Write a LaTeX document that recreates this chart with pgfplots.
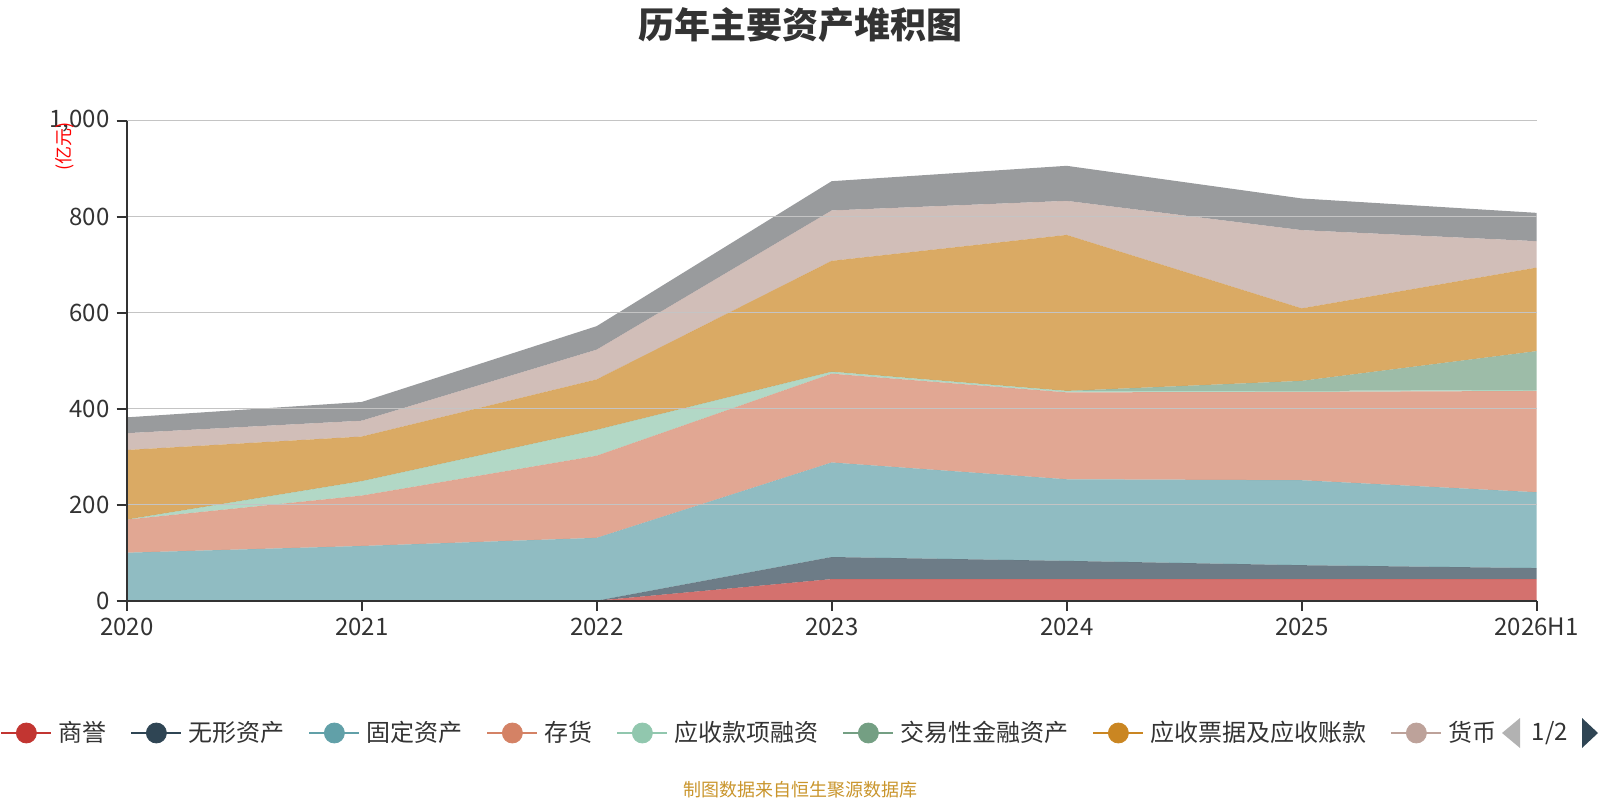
\documentclass[border=0pt]{standalone}
\usepackage{fontspec}
\setmainfont{Noto Sans CJK SC}
\usepackage{pgfplots}
\pgfplotsset{compat=1.18}
\definecolor{c1}{HTML}{C23531}
\definecolor{c2}{HTML}{2F4554}
\definecolor{c3}{HTML}{61A0A8}
\definecolor{c4}{HTML}{D48265}
\definecolor{c5}{HTML}{91C7AE}
\definecolor{c6}{HTML}{749F83}
\definecolor{c7}{HTML}{CA8622}
\definecolor{c8}{HTML}{BDA29A}
\definecolor{c9}{HTML}{6E7074}
\definecolor{txt}{HTML}{333333}
\definecolor{gridc}{HTML}{C4C4C4}
\definecolor{foot}{HTML}{C9952C}
\newcommand{\legimg}[1]{\addlegendimage{legend image code/.code={\draw[#1,line width=1pt] (0pt,0pt) -- (25pt,0pt); \fill[#1] (12.5pt,0pt) circle (5pt);}}}
\begin{document}
\begin{tikzpicture}
\useasboundingbox (0,0) rectangle (800pt,400pt);
\node[font=\fontsize{18}{18}\selectfont\bfseries, text=txt] at (400pt,387.5pt) {历年主要资产堆积图};
\begin{axis}[
  at={(63.35pt,99.65pt)}, anchor=south west,
  scale only axis, width=705pt, height=240pt,
  xmin=0, xmax=6, ymin=0, ymax=1000,
  stack plots=y,
  axis on top,
  axis lines*=left,
  axis line style={txt, line width=0.9pt},
  xtick={0,1,2,3,4,5,6},
  xticklabels={2020,2021,2022,2023,2024,2025,2026H1},
  ytick={0,200,400,600,800,1000},
  yticklabels={0,200,400,600,800,{1,000}},
  tick align=outside,
  major tick length=5pt,
  tick style={txt, line width=0.9pt},
  ticklabel style={font=\fontsize{12}{12}\selectfont, text=txt},
  ymajorgrids,
  grid style={gridc, line width=0.75pt},
  ylabel={(亿元)},
  ylabel style={at={(axis description cs:-0.0438,0.947)}, anchor=center, font=\fontsize{9}{9}\selectfont, text=red},
  legend columns=-1,
  legend style={at={(-0.08986,-0.2756)}, anchor=west, draw=none, fill=none, inner sep=0pt,
    font=\fontsize{12}{12}\selectfont, text=txt,
    /tikz/every odd column/.append style={column sep=1pt},
    /tikz/every even column/.append style={column sep=10pt}},
  legend cell align=left,
]
\legimg{c1}
\legimg{c2}
\legimg{c3}
\legimg{c4}
\legimg{c5}
\legimg{c6}
\legimg{c7}
\legimg{c8}
\addplot[fill=c1, fill opacity=0.7, draw=none] coordinates {(0,0) (1,0) (2,0) (3,45) (4,45) (5,45) (6,45)} \closedcycle;
\addplot[fill=c2, fill opacity=0.7, draw=none] coordinates {(0,0) (1,0) (2,0) (3,46) (4,38) (5,29) (6,23)} \closedcycle;
\addplot[fill=c3, fill opacity=0.7, draw=none] coordinates {(0,100) (1,114) (2,131) (3,197) (4,170) (5,177) (6,158)} \closedcycle;
\addplot[fill=c4, fill opacity=0.7, draw=none] coordinates {(0,69) (1,105) (2,171) (3,185) (4,181) (5,184) (6,211)} \closedcycle;
\addplot[fill=c5, fill opacity=0.7, draw=none] coordinates {(0,0) (1,30) (2,54) (3,4) (4,3) (5,2) (6,2)} \closedcycle;
\addplot[fill=c6, fill opacity=0.7, draw=none] coordinates {(0,0) (1,0) (2,0) (3,0) (4,0) (5,21) (6,81)} \closedcycle;
\addplot[fill=c7, fill opacity=0.7, draw=none] coordinates {(0,145) (1,93) (2,105) (3,231) (4,325) (5,151) (6,174)} \closedcycle;
\addplot[fill=c8, fill opacity=0.7, draw=none] coordinates {(0,35) (1,33) (2,62) (3,105) (4,71) (5,163) (6,55)} \closedcycle;
\addplot[fill=c9, fill opacity=0.7, draw=none] coordinates {(0,33) (1,39) (2,49) (3,61) (4,73) (5,66) (6,59)} \closedcycle;
\legend{商誉,无形资产,固定资产,存货,应收款项融资,交易性金融资产,应收票据及应收账款,货币}
\end{axis}
\fill[gray!60] (751pt,33.5pt) -- (760pt,41pt) -- (760pt,26pt) -- cycle;
\node[font=\fontsize{12}{12}\selectfont, text=txt] at (775pt,33.5pt) {1/2};
\fill[c2] (799pt,33.5pt) -- (791pt,41pt) -- (791pt,26pt) -- cycle;
\node[font=\fontsize{9}{9}\selectfont, text=foot] at (400pt,5pt) {制图数据来自恒生聚源数据库};
\end{tikzpicture}
\end{document}
